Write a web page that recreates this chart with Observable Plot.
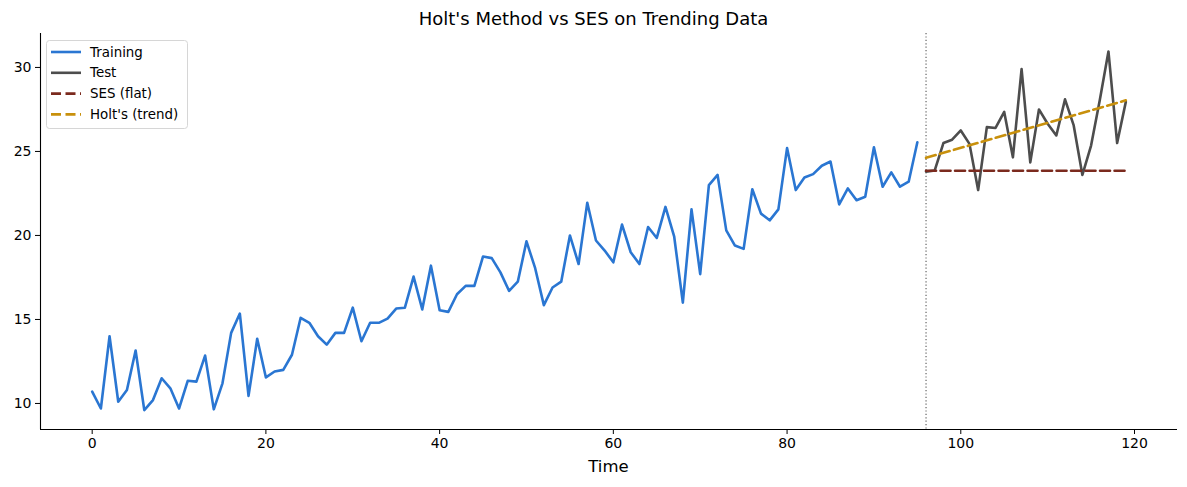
<!DOCTYPE html>
<html><head><meta charset="utf-8">
<script src="https://cdn.jsdelivr.net/npm/d3@7"></script>
<script src="https://cdn.jsdelivr.net/npm/@observablehq/plot@0.6"></script>
<style>
body{margin:0;background:#fff;font-family:"DejaVu Sans",sans-serif;}
#wrap{position:relative;width:1187px;height:487px;overflow:hidden;}
#chart{position:absolute;left:0;top:0;}
#title{position:absolute;left:0;top:8px;width:1187px;text-align:center;font-size:18px;color:#000;line-height:22px;}
#xlabel{position:absolute;left:558px;top:457px;width:101px;text-align:center;font-size:16.5px;color:#000;line-height:20px;}
#legend{position:absolute;left:46px;top:40px;}
</style></head><body>
<div id="wrap"><div id="chart"></div><div id="title">Holt's Method vs SES on Trending Data</div><div id="xlabel">Time</div><svg id="legend" width="144" height="92"></svg></div>
<script>
// Training values, t = 0..95
const training = [10.7,9.7,14.0,10.1,10.8,13.15,9.6,10.2,11.5,10.9,
  9.7,11.35,11.3,12.85,9.65,11.2,14.2,15.35,10.45,13.85,
  11.55,11.9,12.0,12.9,15.1,14.8,14.0,13.5,14.2,14.2,
  15.7,13.7,14.8,14.8,15.05,15.65,15.7,17.55,15.6,18.2,
  15.55,15.45,16.5,17.0,17.0,18.75,18.65,17.8,16.7,17.25,
  19.65,18.05,15.85,16.9,17.25,20.0,18.3,21.95,19.7,19.1,
  18.4,20.65,19.0,18.3,20.5,19.85,21.7,19.95,16.0,21.55,
  17.7,23.0,23.6,20.3,19.4,19.2,22.75,21.3,20.9,21.55,
  25.2,22.7,23.45,23.65,24.15,24.4,21.85,22.8,22.1,22.3,
  25.25,22.9,23.75,22.9,23.2,25.55];
// Test values, t = 96..119
const test = [23.8,23.87,25.5,25.7,26.25,25.45,22.7,26.45,26.4,27.35,
  24.65,29.9,24.35,27.5,26.65,25.95,28.1,26.55,23.6,25.35,
  28.05,30.95,25.5,27.95];
const trainStart = 0;
const testStart = 96;
// Forecast endpoints (t = 96 and t = 119)
const forecastT = [96,119];
const sesValues = [23.85,23.85];
const holtValues = [24.62,28.04];
const xTicks = [0,20,40,60,80,100,120];
const yTicks = [10,15,20,25,30];
const seriesNames = ["Training","Test","SES (flat)","Holt's (trend)"];
const colors = ["#2a76d2","#4d4d4d","#7b2a1e","#c8900c"];

const trainRows = training.map((v,i)=>({t:trainStart+i,v}));
const testRows = test.map((v,i)=>({t:testStart+i,v}));
const sesRows = forecastT.map((t,i)=>({t,v:sesValues[i]}));
const holtRows = forecastT.map((t,i)=>({t,v:holtValues[i]}));

const xDom=[-5.95,124.95], yDom=[8.45,32.02];
const chart = Plot.plot({
  width:1187, height:487,
  marginLeft:40, marginRight:10, marginTop:33, marginBottom:58,
  style:{fontFamily:"DejaVu Sans", fontSize:"14px", color:"#000", background:"#fff"},
  x:{domain:xDom},
  y:{domain:yDom},
  marks:[
    Plot.ruleX([testStart],{stroke:"#555",strokeWidth:1.1,strokeDasharray:"1.2,2.2"}),
    Plot.line(trainRows,{x:"t",y:"v",stroke:colors[0],strokeWidth:2.6}),
    Plot.line(testRows,{x:"t",y:"v",stroke:colors[1],strokeWidth:2.6}),
    Plot.line(sesRows,{x:"t",y:"v",stroke:colors[2],strokeWidth:2.6,strokeDasharray:"10,4.5"}),
    Plot.line(holtRows,{x:"t",y:"v",stroke:colors[3],strokeWidth:2.6,strokeDasharray:"10,4.5"}),
    Plot.axisX({ticks:xTicks, tickSize:5, tickPadding:4, label:null, fontSize:14}),
    Plot.axisY({ticks:yTicks, tickSize:5, tickPadding:4, label:null, fontSize:14}),
    Plot.ruleX([xDom[0]],{stroke:"#000",strokeWidth:1.1}),
    Plot.ruleY([yDom[0]],{stroke:"#000",strokeWidth:1.1})
  ]
});
document.getElementById("chart").append(chart);

const lg = d3.select("#legend");
lg.append("rect").attr("x",0.5).attr("y",0.5).attr("width",141).attr("height",88).attr("rx",3)
  .attr("fill","rgba(255,255,255,0.85)").attr("stroke","#d6d6d6");
seriesNames.forEach((name,i)=>{
  const y = 12 + i*20.8;
  lg.append("line").attr("x1",5).attr("x2",35).attr("y1",y).attr("y2",y)
    .attr("stroke",colors[i]).attr("stroke-width",2.6)
    .attr("stroke-dasharray", i>=2 ? "10,4.5" : null);
  lg.append("text").attr("x",44).attr("y",y).attr("dy","0.35em")
    .attr("font-family","DejaVu Sans").attr("font-size",13.4).attr("fill","#000").text(name);
});
</script>
</body></html>
